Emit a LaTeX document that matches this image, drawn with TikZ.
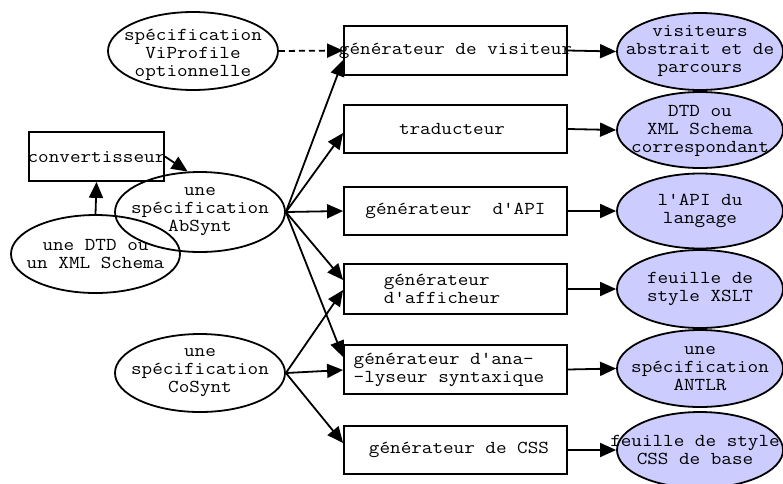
\documentclass[tikz,border=0pt]{standalone}
\usepackage{fontspec}
\setmonofont{Latin Modern Mono}[FakeStretch=1.13]
\usetikzlibrary{arrows.meta,shapes.geometric}
\definecolor{lav}{RGB}{204,204,255}
\newcommand\apq{\char"0027\relax}
\begin{document}
\begin{tikzpicture}[x=1pt,y=-1pt,
  txt/.style={font=\ttfamily\fontsize{18.2}{18}\selectfont, align=center, inner sep=0pt},
  box/.style={draw, line width=1.8pt, minimum width=223pt, minimum height=49pt, inner sep=0pt},
  oval/.style={draw, ellipse, line width=1.8pt, minimum width=170pt, minimum height=78pt, inner sep=0pt},
  res/.style={oval, fill=lav, minimum width=166pt, minimum height=77pt},
  arr/.style={line width=1.8pt, -{Triangle[length=16pt,width=14pt]}},
]
\useasboundingbox (0,0) rectangle (783,483);

% left side
\node[oval] (vp) at (193,51) {};
\node[txt] (vpT) at (193,55) {spécification\\ViProfile\\optionnelle};
\node[box, minimum width=135pt] (conv) at (96.5,156.5) {};
\node[txt] (convT) at (96.5,157) {convertisseur};
\node[oval, minimum width=169pt] (dtd) at (95.5,254) {};
\node[txt] (dtdT) at (95.5,254) {une DTD ou\\un XML Schema};
\node[oval, minimum height=80pt] (abs) at (200,212) {};
\node[txt] (absT) at (200,212) {une\\spécification\\AbSynt};
\node[oval] (cos) at (200,373) {};
\node[txt] (cosT) at (200,373) {une\\spécification\\CoSynt};

% boxes
\node[box] (vis) at (455.5,50.5) {};
\node[txt] (visT) at (455.5,51) {générateur de visiteur};
\node[box, minimum height=48pt] (trad) at (455.5,129) {};
\node[txt] (tradT) at (452,129) {traducteur};
\node[box, minimum height=48pt] (api) at (455.5,211) {};
\node[txt] (apiT) at (455.5,211) {générateur~~d\apq API};
\node[box, minimum height=50pt] (aff) at (455.5,289) {};
\node[txt, align=left] (affT) at (442,289) {générateur\\d\apq afficheur};
\node[box] (ana) at (455.5,369.5) {};
\node[txt, align=left] (anaT) at (449,369.5) {générateur d\apq ana-\\-lyseur syntaxique};
\node[box, minimum height=48pt] (css) at (455.5,450) {};
\node[txt] (cssT) at (459,450) {générateur de CSS};

% results
\node[res] (visr) at (700,51.5) {};
\node[txt] (visrT) at (700,51.5) {visiteurs\\abstrait et de\\parcours};
\node[res, minimum height=76pt] (tradr) at (700,130) {};
\node[txt] (tradrT) at (700,131) {DTD ou\\XML Schema\\correspondant};
\node[res, minimum height=75pt] (apir) at (700,211) {};
\node[txt] (apirT) at (700,211) {l\apq API du\\langage};
\node[res, minimum height=78pt] (affr) at (700,289) {};
\node[txt] (affrT) at (700,289) {feuille de\\style XSLT};
\node[res] (anar) at (700,368.5) {};
\node[txt] (anarT) at (700,369) {une\\spécification\\ANTLR};
\node[res, minimum height=76pt] (cssr) at (700,450) {};
\node[txt] (cssrT) at (695,450) {feuille de style\\CSS de base};

% connectors
\draw[arr, dash pattern=on 6pt off 4pt] (vp.east) -- (vis.west);
\draw[arr] (dtd.north) -- (conv.south);
\draw[arr] (conv.east) -- (abs.107);
\draw[arr] (abs.east) -- ([yshift=-9.5pt]vis.west);
\draw[arr] (abs.east) -- ([yshift=-4pt]trad.west);
\draw[arr] (abs.east) -- (api.west);
\draw[arr] (abs.east) -- ([yshift=9pt]aff.west);
\draw[arr] (abs.east) -- ([yshift=12.5pt]ana.west);
\draw[arr] (cos.east) -- ([yshift=-1pt]aff.west);
\draw[arr] (cos.east) -- ([yshift=-0.5pt]ana.west);
\draw[arr] (cos.east) -- ([yshift=7pt]css.west);
\draw[arr] (vis.east) -- (visr.west);
\draw[arr] (trad.east) -- (tradr.west);
\draw[arr] (api.east) -- (apir.west);
\draw[arr] (aff.east) -- (affr.west);
\draw[arr] (ana.east) -- (anar.west);
\draw[arr] (css.east) -- (cssr.west);
\end{tikzpicture}
\end{document}
